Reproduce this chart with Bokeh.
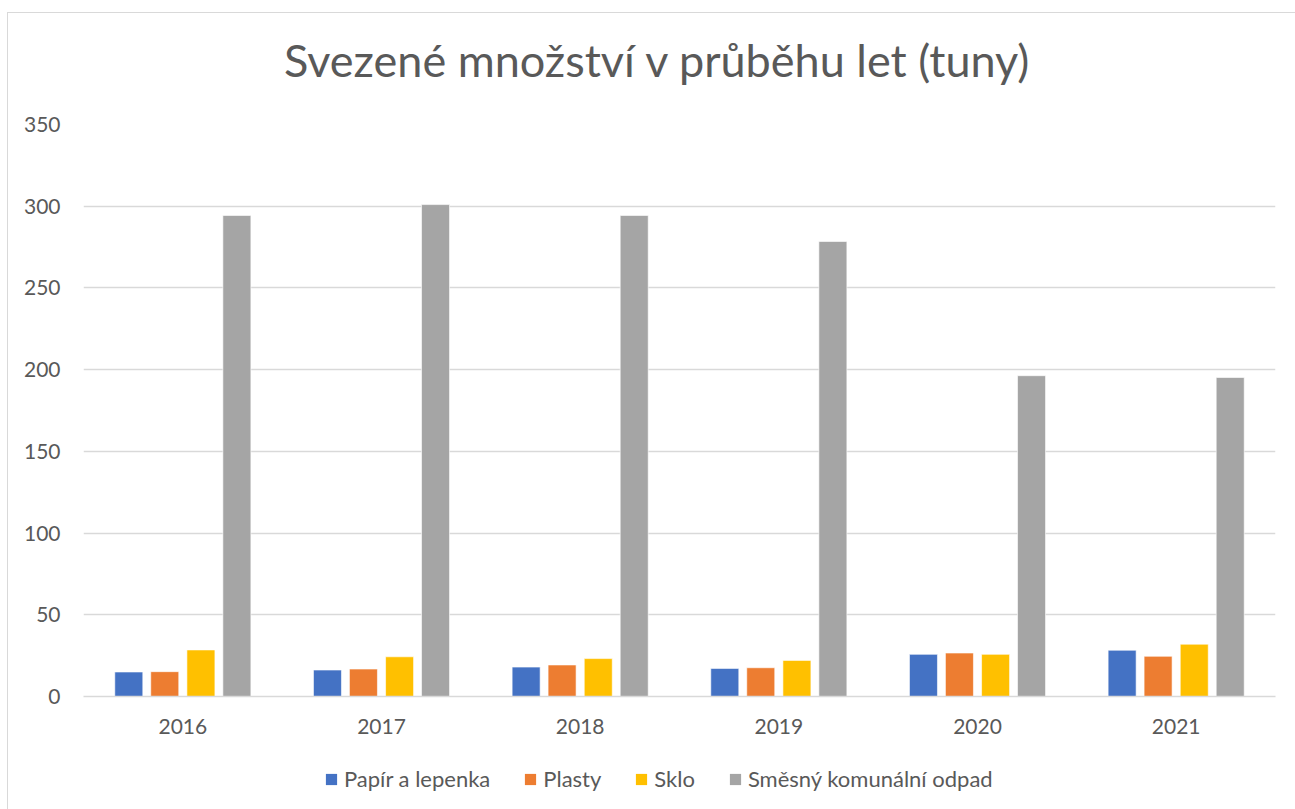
from bokeh.plotting import figure
from bokeh.layouts import column
from bokeh.models import ColumnDataSource, Legend, LegendItem, Label
from bokeh.transform import dodge
from bokeh.embed import file_html
from bokeh.resources import INLINE

years = ["2016", "2017", "2018", "2019", "2020", "2021"]
papir = [15.0, 16.2, 18.0, 17.2, 25.8, 28.3]
plasty = [15.2, 16.8, 19.3, 17.6, 26.6, 24.6]
sklo = [28.5, 24.3, 23.2, 22.1, 25.8, 32.0]
smesny = [294.3, 301.0, 294.3, 278.4, 196.3, 195.2]
series_names = ["Papír a lepenka", "Plasty", "Sklo", "Směsný komunální odpad"]
y_ticks = [0, 50, 100, 150, 200, 250, 300, 350]
title_text = "Svezené množství v průběhu let (tuny)"

colors = ["#4472C4", "#ED7D31", "#FFC000", "#A5A5A5"]
FONT = "Lato"
TXT = "#595959"
W = 1287

# ---- title strip ----
pt = figure(width=W, height=96, x_range=(0, W), y_range=(0, 96),
            output_backend="svg", toolbar_location=None,
            x_axis_location=None, y_axis_location=None,
            min_border_left=0, min_border_right=0, min_border_top=0, min_border_bottom=0)
pt.grid.visible = False
pt.outline_line_color = None
pt.title = None
pt.border_fill_color = "white"
pt.add_layout(Label(x=620, y=50, text=title_text, text_align="center",
                    text_baseline="alphabetic", text_font=FONT, text_font_size="45px",
                    text_color=TXT))

# ---- main chart ----
src = ColumnDataSource(dict(years=years, papir=papir, plasty=plasty, sklo=sklo, smesny=smesny))

p = figure(x_range=years, y_range=(0, 350), width=W, height=641,
           output_backend="svg", toolbar_location=None,
           min_border_left=75, min_border_right=20, min_border_top=15, min_border_bottom=54)
p.title = None
p.outline_line_color = None
p.background_fill_color = "white"
p.border_fill_color = "white"

keys = ["papir", "plasty", "sklo", "smesny"]
offsets = [-0.272, -0.091, 0.091, 0.272]
for k, off, c in zip(keys, offsets, colors):
    p.vbar(x=dodge("years", off, range=p.x_range), top=k, width=0.141, source=src,
           fill_color=c, line_color="white", line_width=1, line_alpha=0.6)

p.xgrid.grid_line_color = None
p.ygrid.grid_line_color = "#d9d9d9"
p.ygrid.grid_line_width = 1.3
p.yaxis.ticker = y_ticks
p.yaxis.axis_line_color = None
p.yaxis.major_tick_line_color = None
p.yaxis.minor_tick_line_color = None
p.yaxis.major_label_standoff = 17
p.yaxis.major_label_text_font = FONT
p.yaxis.major_label_text_font_size = "21px"
p.yaxis.major_label_text_color = TXT

p.xaxis.axis_line_color = "#d9d9d9"
p.xaxis.axis_line_width = 1.3
p.xaxis.major_tick_line_color = None
p.xaxis.minor_tick_line_color = None
p.xaxis.major_label_standoff = 16
p.xaxis.major_label_text_font = FONT
p.xaxis.major_label_text_font_size = "21px"
p.xaxis.major_label_text_color = TXT

# ---- legend strip ----
pl = figure(width=W, height=59, x_range=(0, 1), y_range=(0, 1),
            output_backend="svg", toolbar_location=None,
            x_axis_location=None, y_axis_location=None,
            min_border_left=0, min_border_right=0, min_border_top=0, min_border_bottom=0)
pl.grid.visible = False
pl.outline_line_color = None
pl.title = None
pl.border_fill_color = "white"
leg_renderers = []
for c in colors:
    r = pl.vbar(x=[0], top=[0], width=0, fill_color=c, line_color=None)
    leg_renderers.append(r)

items = [LegendItem(label=n, renderers=[r]) for n, r in zip(series_names, leg_renderers)]
legend = Legend(items=items, orientation="horizontal", location=(241, 17),
                label_text_font=FONT, label_text_font_size="22px", label_text_color=TXT,
                glyph_width=14, glyph_height=14, label_standoff=6, spacing=33,
                border_line_color=None, background_fill_alpha=0, padding=0, margin=0)
pl.add_layout(legend, "center")

layout = column(pt, p, pl, spacing=0,
                styles={"border-left": "1px solid #d9d9d9", "border-top": "1px solid #d9d9d9",
                        "margin-left": "7px", "margin-top": "12px"})

open("out.html", "w").write(file_html(layout, INLINE))
